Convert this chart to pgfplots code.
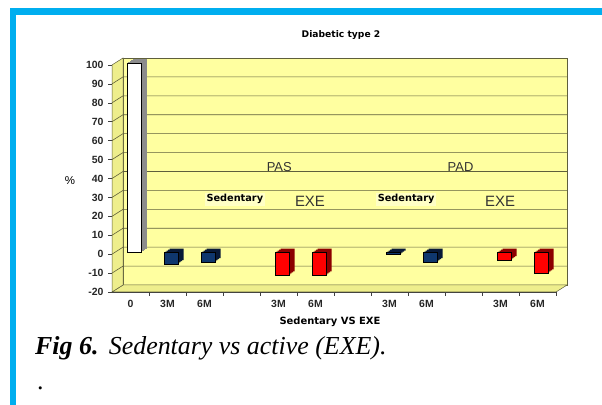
\documentclass[border=0pt]{standalone}
\usepackage{fontspec}
\setmainfont{Liberation Sans}
\newfontfamily\dejavu{DejaVu Sans}
\newfontfamily\timesf{Liberation Serif}
\usepackage{pgfplots}
\usepackage{pgfplotstable}
\pgfplotsset{compat=1.18}
\definecolor{cyanb}{RGB}{0,174,239}
\definecolor{wall}{RGB}{255,255,160}
\definecolor{floorc}{RGB}{238,238,140}
\definecolor{gridc}{RGB}{95,95,60}
\definecolor{navy}{RGB}{15,55,110}
\definecolor{navyd}{RGB}{8,25,55}
\definecolor{redf}{RGB}{255,0,0}
\definecolor{redd}{RGB}{140,0,0}
\pgfplotstableread{
x y
0 100
}\whitebars
\pgfplotstableread{
x y
1 -6
2 -5
7 -1
8 -5
}\bluebars
\pgfplotstableread{
x y
4 -12
5 -12
10 -4
11 -11
}\redbars
\pgfplotsset{
  bw/.style={ybar, bar width=14bp},
  d4/.style={bw, bar shift=9bp, yshift=5.5bp, draw=none},
  d3/.style={bw, bar shift=7.6bp, yshift=4.5bp, draw=none},
  d2/.style={bw, bar shift=6.2bp, yshift=3.5bp, draw=none},
  d1/.style={bw, bar shift=4.9bp, yshift=2.5bp, draw=none},
  d0/.style={bw, bar shift=3.5bp, yshift=1.5bp, draw=black, line width=0.5bp},
}
\begin{document}
\begin{tikzpicture}
\path[use as bounding box] (0bp,0bp) rectangle (602bp,405bp);
\fill[cyanb] (10bp,0bp) rectangle (16bp,397bp);
\fill[cyanb] (10bp,390bp) rectangle (602bp,397bp);
\begin{axis}[
  at={(112bp,113bp)}, anchor=south west,
  scale only axis, width=444bp, height=227bp,
  xmin=-0.5, xmax=11.5, ymin=-20, ymax=100,
  axis x line*=bottom, axis y line*=left,
  axis line style={draw=black!75, line width=0.6bp},
  clip=false,
  ytick={-20,-10,...,100},
  xtick={0,1,2,4,5,7,8,10,11},
  xticklabels={0,3M,6M,3M,6M,3M,6M,3M,6M},
  minor xtick={0.5,1.5,...,11.5},
  major x tick style={draw=none},
  tick align=outside,
  major tick length=4bp, minor tick length=4bp,
  tick style={black!75, line width=0.6bp},
  ticklabel style={font=\fontsize{10.5}{12}\selectfont\bfseries, text=black!85},
  yticklabel style={xshift=-1bp},
  xticklabel style={yshift=-1bp},
  /pgf/number format/assume math mode=true,
]
\fill[wall, draw=gridc, line width=0.5bp] ([shift={(11bp,7bp)}]rel axis cs:0,0) rectangle ([shift={(11bp,7bp)}]rel axis cs:1,1);
\fill[floorc, draw=gridc, line width=0.5bp] (rel axis cs:0,0) -- (rel axis cs:1,0) -- ([shift={(11bp,7bp)}]rel axis cs:1,0) -- ([shift={(11bp,7bp)}]rel axis cs:0,0) -- cycle;
\fill[floorc, draw=gridc, line width=0.5bp] (rel axis cs:0,0) -- (rel axis cs:0,1) -- ([shift={(11bp,7bp)}]rel axis cs:0,1) -- ([shift={(11bp,7bp)}]rel axis cs:0,0) -- cycle;
\pgfplotsinvokeforeach{-10,0,10,20,30,40,50,60,70,80,90}{
  \draw[gridc, line width=0.6bp] (axis cs:-0.5,#1) -- ([shift={(11bp,7bp)}]axis cs:-0.5,#1) -- ([shift={(11bp,7bp)}]axis cs:11.5,#1);
}
% white bar
\addplot[d4, fill=black!45] table {\whitebars};
\addplot[d3, fill=black!45] table {\whitebars};
\addplot[d2, fill=black!45] table {\whitebars};
\addplot[d1, fill=black!45] table {\whitebars};
\addplot[d0, fill=white] table {\whitebars};
% blue bars
\addplot[d4, fill=navyd] table {\bluebars};
\addplot[d3, fill=navyd] table {\bluebars};
\addplot[d2, fill=navyd] table {\bluebars};
\addplot[d1, fill=navyd] table {\bluebars};
\addplot[d0, fill=navy] table {\bluebars};
% red bars
\addplot[d4, fill=redd] table {\redbars};
\addplot[d3, fill=redd] table {\redbars};
\addplot[d2, fill=redd] table {\redbars};
\addplot[d1, fill=redd] table {\redbars};
\addplot[d0, fill=redf] table {\redbars};
% annotations
\node[font=\fontsize{13}{15}\selectfont, text=black!80] at (axis cs:4.02,46) {PAS};
\node[font=\fontsize{13}{15}\selectfont, text=black!80] at (axis cs:8.92,46) {PAD};
\node[font=\dejavu\bfseries\fontsize{9.8}{11}\selectfont, fill=wall!60!white, inner sep=2bp] at (axis cs:2.82,29) {Sedentary};
\node[font=\dejavu\bfseries\fontsize{9.8}{11}\selectfont, fill=wall!60!white, inner sep=2bp] at (axis cs:7.45,29) {Sedentary};
\node[font=\fontsize{15}{17}\selectfont, text=black!80] at (axis cs:4.85,28) {EXE};
\node[font=\fontsize{15}{17}\selectfont, text=black!80] at (axis cs:9.99,28) {EXE};
\end{axis}
\node[font=\dejavu\bfseries\fontsize{9.2}{11}\selectfont] at (341bp,370bp) {Diabetic type 2};
\node[font=\dejavu\bfseries\fontsize{10}{12}\selectfont] at (330bp,83bp) {Sedentary VS EXE};
\node[font=\fontsize{11.5}{13}\selectfont] at (70bp,224bp) {\%};
\node[anchor=base west, font=\timesf\fontsize{26}{30}\selectfont, inner sep=0pt] at (35bp,50bp) {\textbf{\textit{Fig 6.}}\hspace{0.4em}\textit{Sedentary vs active (EXE).}};
\node[anchor=base west, font=\timesf\fontsize{26}{30}\selectfont, inner sep=0pt] at (37bp,16bp) {.};
\end{tikzpicture}
\end{document}
